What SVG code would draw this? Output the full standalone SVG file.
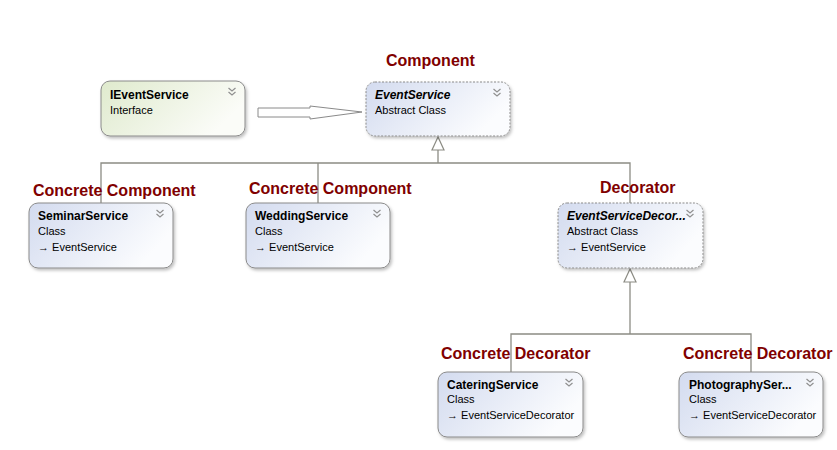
<svg xmlns="http://www.w3.org/2000/svg" width="837" height="450" viewBox="0 0 837 450">
<style>
.lbl{font-family:"Liberation Sans",Arial,sans-serif;font-weight:bold;font-size:16px;fill:#800000}
.nm{font-family:"Liberation Sans",Arial,sans-serif;font-weight:bold;font-size:12px;fill:#000}
.it{font-style:italic}
.sub{font-family:"Liberation Sans",Arial,sans-serif;font-size:11px;fill:#000}
.box{stroke:#8a8a8a;stroke-width:1;fill:url(#gb)}
.abs{stroke-dasharray:2 1.5}
.ifc{fill:url(#gg)}
.ln{stroke:#8c8c84;stroke-width:1.3;fill:none}
.tri{stroke:#8c8c84;stroke-width:1.2;fill:#fff}
.chev{stroke:#909090;stroke-width:1.2;fill:none}
</style>
<defs>
<linearGradient id="gb" x1="0" y1="0" x2="1" y2="0.4">
<stop offset="0" stop-color="#d3dbef"/><stop offset="1" stop-color="#fbfcfe"/>
</linearGradient>
<linearGradient id="gg" x1="0" y1="0" x2="1" y2="0.4">
<stop offset="0" stop-color="#dfeacd"/><stop offset="1" stop-color="#fbfcf8"/>
</linearGradient>
<filter id="sh" x="-10%" y="-10%" width="130%" height="140%">
<feDropShadow dx="1.5" dy="2" stdDeviation="1.5" flood-color="#000" flood-opacity="0.25"/>
</filter>
<g id="chv"><polyline class="chev" points="-3.5,-3 0,0 3.5,-3"/><polyline class="chev" points="-3.5,1 0,4 3.5,1"/></g>
</defs>
<rect width="837" height="450" fill="#fff"/>

<g id="connectors">
<polygon points="258,108 310,108 310,106 362,112 310,119 310,117 258,117" fill="#fff" stroke="#8a8a8a" stroke-width="1"/>
<polyline class="ln" points="438,150 438,163"/>
<polyline class="ln" points="101,204 101,163 630,163 630,204"/>
<polyline class="ln" points="318,163 318,204"/>
<polygon class="tri" points="438,137 432,150 444,150"/>
<polyline class="ln" points="630,282 630,334"/>
<polyline class="ln" points="511,372 511,334 751,334 751,372"/>
<polygon class="tri" points="630,269 624,282 636,282"/>
</g>

<g id="IEventService">
<rect class="box ifc" x="101" y="81" width="144" height="55" rx="9" filter="url(#sh)"/>
<text class="nm" x="110" y="99">IEventService</text>
<text class="sub" x="110" y="114">Interface</text>
<use href="#chv" x="232" y="91"/>
</g>

<g id="EventService">
<text class="lbl" x="386" y="66">Component</text>
<rect class="box abs" x="366" y="82" width="144" height="54" rx="9" filter="url(#sh)"/>
<text class="nm it" x="375" y="99">EventService</text>
<text class="sub" x="375" y="114">Abstract Class</text>
<use href="#chv" x="497" y="92"/>
</g>

<g id="SeminarService">
<rect class="box" x="29" y="203" width="144" height="65" rx="9" filter="url(#sh)"/>
<text class="lbl" x="33" y="196">Concrete Component</text>
<text class="nm" x="38" y="220">SeminarService</text>
<text class="sub" x="38" y="235">Class</text>
<text class="sub" x="38" y="251">→ EventService</text>
<use href="#chv" x="160" y="213"/>
</g>

<g id="WeddingService">
<rect class="box" x="246" y="203" width="144" height="65" rx="9" filter="url(#sh)"/>
<text class="lbl" x="249" y="194">Concrete Component</text>
<text class="nm" x="255" y="220">WeddingService</text>
<text class="sub" x="255" y="235">Class</text>
<text class="sub" x="255" y="251">→ EventService</text>
<use href="#chv" x="377" y="213"/>
</g>

<g id="EventServiceDecorator">
<rect class="box abs" x="558" y="203" width="145" height="65" rx="9" filter="url(#sh)"/>
<text class="lbl" x="600" y="193">Decorator</text>
<text class="nm it" x="567" y="220">EventServiceDecor...</text>
<text class="sub" x="567" y="235">Abstract Class</text>
<text class="sub" x="567" y="251">→ EventService</text>
<use href="#chv" x="690" y="213"/>
</g>

<g id="CateringService">
<rect class="box" x="438" y="372" width="145" height="65" rx="9" filter="url(#sh)"/>
<text class="lbl" x="441" y="359">Concrete Decorator</text>
<text class="nm" x="447" y="389">CateringService</text>
<text class="sub" x="447" y="403">Class</text>
<text class="sub" x="447" y="419">→ EventServiceDecorator</text>
<use href="#chv" x="569" y="382"/>
</g>

<g id="PhotographyService">
<rect class="box" x="679" y="372" width="144" height="65" rx="9" filter="url(#sh)"/>
<text class="lbl" x="683" y="359">Concrete Decorator</text>
<text class="nm" x="689" y="389">PhotographySer...</text>
<text class="sub" x="689" y="403">Class</text>
<text class="sub" x="689" y="419">→ EventServiceDecorator</text>
<use href="#chv" x="810" y="382"/>
</g>
</svg>
